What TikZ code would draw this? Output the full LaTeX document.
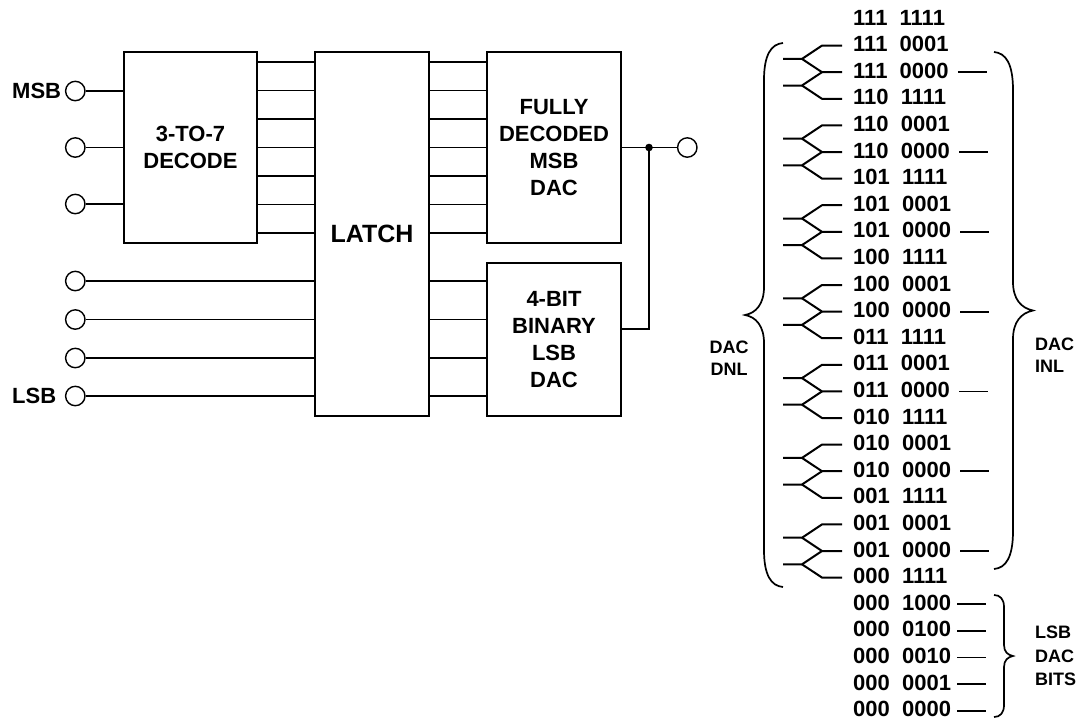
\documentclass[tikz,border=0pt]{standalone}
\usepackage{fontspec}
\setmainfont{Liberation Sans}
\usetikzlibrary{calc}
\begin{document}
\begin{tikzpicture}[x=1pt,y=-1pt,
  box/.style={draw,line width=2pt,inner sep=0pt,align=center,font=\bfseries\fontsize{22}{26.7}\selectfont},
  wire/.style={line width=1.8pt},
  term/.style={circle,draw,line width=1.4pt,minimum size=19.4pt,inner sep=0pt,fill=white},
  lbl/.style={font=\bfseries\fontsize{22}{26.7}\selectfont,inner sep=0pt},
  codetxt/.style={anchor=west,inner sep=0pt,font=\bfseries\fontsize{22}{26}\selectfont},
  smalllbl/.style={inner sep=0pt,font=\bfseries\fontsize{18}{22}\selectfont,align=left},
  fork/.style={line width=2pt,line join=round},
  brc/.style={line width=1.7pt},
]
\useasboundingbox (0,0) rectangle (1076,721);

% blocks
\node[box,minimum width=133pt,minimum height=191pt] (dec) at (190.5,147.5) {3-TO-7\\DECODE};
\node[box,minimum width=114pt,minimum height=364pt,font=\bfseries\fontsize{25}{30}\selectfont] (latch) at (372,234) {LATCH};
\node[box,minimum width=134pt,minimum height=191pt] (msb) at (554,147.5) {FULLY\\DECODED\\MSB\\DAC};
\node[box,minimum width=134pt,minimum height=153pt] (lsb) at (554,339.5) {4-BIT\\BINARY\\LSB\\DAC};

% input terminals
\foreach \k/\y in {1/91,2/147.5,3/204,4/281,5/319.5,6/358,7/396}
  \node[term] (i\k) at (75.3,\y) {};
\node[lbl,anchor=west] (msbl) at (12,91) {MSB};
\node[lbl,anchor=west] (lsbl) at (12,396) {LSB};

\foreach \k in {1,2,3}
  \draw[wire] (i\k.east) -- (dec.west |- i\k);
\foreach \k in {4,...,7}{
  \draw[wire] (i\k.east) -- (latch.west |- i\k);
  \draw[wire] (latch.east |- i\k) -- (lsb.west |- i\k);
}
\foreach \k in {0,...,6}{
  \coordinate (o\k) at (0,{62+28.5*\k});
  \draw[wire] (dec.east |- o\k) -- (latch.west |- o\k);
  \draw[wire] (latch.east |- o\k) -- (msb.west |- o\k);
}

% output
\node[term] (out) at (687.3,147.5) {};
\coordinate (j) at (649,147.5);
\coordinate (ly) at (0,329);
\draw[wire] (msb.east |- j) -- (j) -- (out.west);
\draw[wire] (lsb.east |- ly) -| (j);
\fill (j) circle (3.8pt);

% code list
\foreach \t [count=\i] in {111~~1111,111~~0001,111~~0000,110~~1111,110~~0001,110~~0000,101~~1111,101~~0001,101~~0000,100~~1111,100~~0001,100~~0000,011~~1111,011~~0001,011~~0000,010~~1111,010~~0001,010~~0000,001~~1111,001~~0001,001~~0000,000~~1111,000~~1000,000~~0100,000~~0010,000~~0001,000~~0000}
  \node[codetxt] (r\i) at (853,{17.5+26.6*(\i-1)}) {\t};

% forks and INL dashes
\foreach \g in {0,...,6}{
  \pgfmathtruncatemacro\a{2+3*\g}
  \pgfmathtruncatemacro\b{3+3*\g}
  \pgfmathtruncatemacro\c{4+3*\g}
  \coordinate (A) at ($(r\a.west)+(-31,1.5)$);
  \coordinate (B) at ($(r\b.west)+(-31,1.5)$);
  \coordinate (C) at ($(r\c.west)+(-31,1.5)$);
  \coordinate (P) at ($(A)!0.5!(B)+(-20,0)$);
  \coordinate (Q) at ($(B)!0.5!(C)+(-20,0)$);
  \draw[fork] ($(P)+(-19,0)$) -- (P) -- (A) -- ++(20,0);
  \draw[fork] (P) -- (B) -- ++(20,0);
  \draw[fork] ($(Q)+(-19,0)$) -- (Q) -- (B);
  \draw[fork] (Q) -- (C) -- ++(20,0);
  \draw[wire] ($(r\b.east)+(9,1.5)$) -- ++(29,0);
}
\foreach \k in {23,...,27}
  \draw[wire] ($(r\k.east)+(6,1.5)$) -- ++(29,0);

% braces
\draw[brc] (783,43) .. controls (771,44) and (764,55) .. (764,80) -- (764,287)
  .. controls (764,304) and (756,313) .. (745,315)
  .. controls (756,317) and (764,326) .. (764,343) -- (764,550)
  .. controls (764,575) and (771,586) .. (783,587);
\draw[brc] (994,52) .. controls (1006,53) and (1013,64) .. (1013,90) -- (1013,282)
  .. controls (1013,299) and (1021,308) .. (1033,310.5)
  .. controls (1021,313) and (1013,322) .. (1013,339) -- (1013,531)
  .. controls (1013,557) and (1006,568) .. (994,569);
\draw[brc] (994,595) .. controls (1000,595) and (1004,599) .. (1004,607) -- (1004,645)
  .. controls (1004,652) and (1008,655) .. (1013,656)
  .. controls (1008,657) and (1004,660) .. (1004,667) -- (1004,705)
  .. controls (1004,713) and (1000,717) .. (994,717);

% brace labels
\node[smalllbl,align=center] (dnl) at (729,358) {DAC\\DNL};
\node[smalllbl,anchor=west] (inl) at (1035,355) {DAC\\INL};
\node[smalllbl,anchor=west,font=\bfseries\fontsize{18}{23.5}\selectfont] (bits) at (1035,656) {LSB\\DAC\\BITS};
\end{tikzpicture}
\end{document}
